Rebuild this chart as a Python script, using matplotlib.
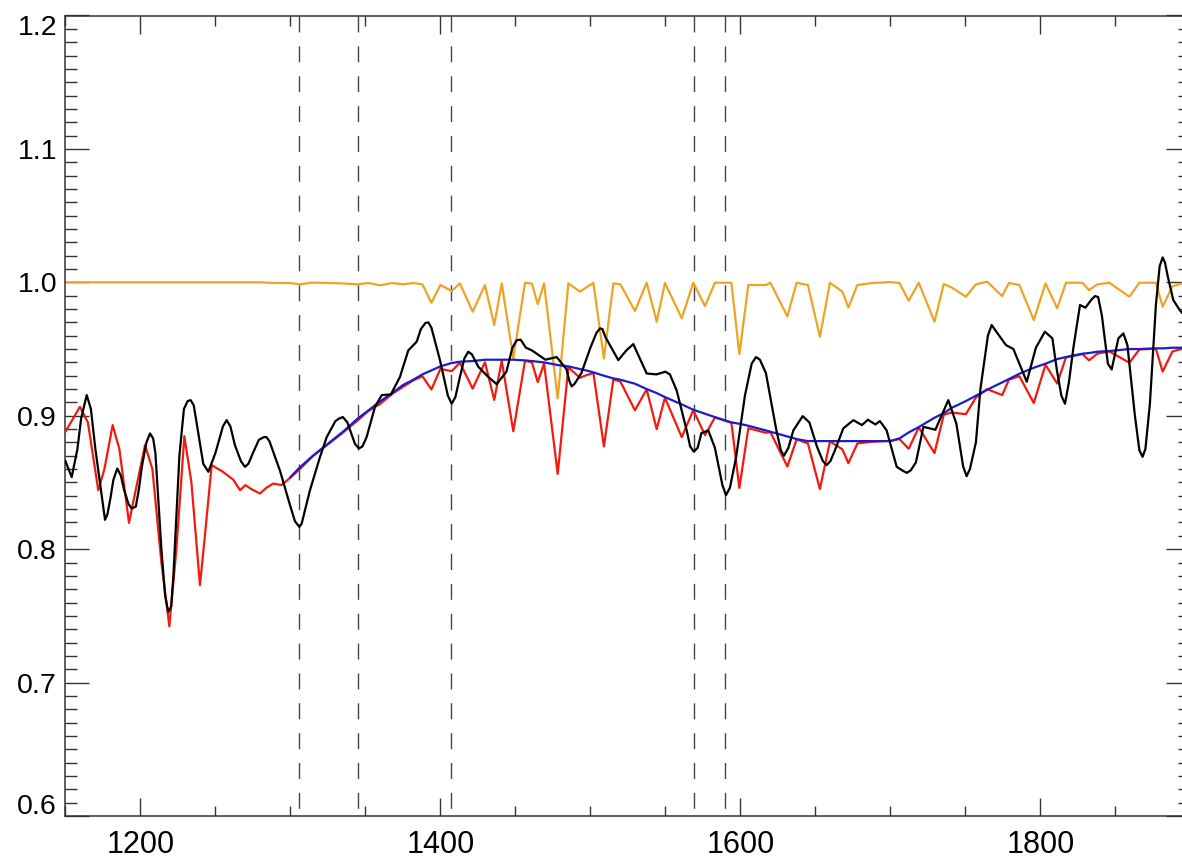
import numpy as np
import matplotlib
matplotlib.use("Agg")
import matplotlib.pyplot as plt
from matplotlib.ticker import MultipleLocator, FormatStrFormatter
from matplotlib.transforms import ScaledTranslation

plt.rcParams["font.family"] = ["Liberation Sans", "DejaVu Sans"]

# Observed, normalised spectrum
obs_wl = [1150, 1154.2, 1158, 1160.5, 1164.2, 1167, 1170, 1176.4, 1178, 1180,
          1182, 1184.6, 1187, 1189, 1192, 1194.2, 1197, 1199, 1201, 1204,
          1206.4, 1208.5, 1210, 1214, 1216.5, 1218.6, 1220.5, 1222, 1226, 1229,
          1231.5, 1233.5, 1235.5, 1237, 1241.9, 1245.3, 1250, 1255, 1257.5, 1260,
          1263, 1267, 1269.7, 1272, 1275, 1279, 1282.4, 1284, 1286, 1293,
          1300, 1303, 1305.9, 1307.5, 1309, 1313, 1319.7, 1324.2, 1330, 1332.6,
          1335, 1338, 1343, 1345.7, 1348, 1350.8, 1356.4, 1360.9, 1367, 1373,
          1378.6, 1384.2, 1387, 1390, 1392, 1394, 1399.7, 1405, 1407.5, 1410,
          1413, 1416, 1418.6, 1421, 1425.3, 1432, 1437.5, 1444, 1448, 1450.9,
          1453.5, 1457, 1461, 1470, 1477.5, 1484, 1486, 1487.5, 1489.5, 1494,
          1500, 1504, 1506.4, 1508, 1510, 1518.6, 1524, 1528.6, 1537.5, 1544,
          1550, 1553, 1557.5, 1564.2, 1566.5, 1569, 1571.5, 1574, 1578.6, 1583,
          1588, 1590.4, 1593, 1597, 1603, 1607.5, 1610.4, 1613, 1617, 1624,
          1627, 1629, 1632, 1635.3, 1641.5, 1646, 1651, 1655, 1657.5, 1660,
          1663, 1668.6, 1675.3, 1681, 1685, 1690, 1693, 1697.5, 1704.2, 1708,
          1710.9, 1713.5, 1717, 1722, 1730, 1738.6, 1744, 1748.5, 1750.8, 1753,
          1757, 1760, 1765, 1767.5, 1770, 1777, 1782, 1790.9, 1797, 1803,
          1808, 1811, 1814, 1816.4, 1819, 1822, 1826.4, 1830, 1834, 1836.4,
          1838.5, 1841, 1845, 1847.5, 1852, 1855.3, 1858, 1863, 1866, 1868.1,
          1870, 1873, 1877, 1879.5, 1881.5, 1883, 1885, 1888.6, 1893, 1900]
obs_flux = [0.866, 0.854, 0.875, 0.898, 0.9155, 0.905, 0.875, 0.822, 0.826, 0.838,
            0.852, 0.8605, 0.855, 0.845, 0.834, 0.8305, 0.832, 0.845, 0.862, 0.880,
            0.8867, 0.883, 0.872, 0.800, 0.765, 0.753, 0.757, 0.780, 0.870, 0.905,
            0.911, 0.9117, 0.908, 0.898, 0.864, 0.858, 0.872, 0.892, 0.8967, 0.892,
            0.878, 0.866, 0.8617, 0.864, 0.872, 0.882, 0.884, 0.884, 0.881, 0.859,
            0.832, 0.821, 0.8167, 0.819, 0.826, 0.844, 0.869, 0.884, 0.896, 0.898,
            0.899, 0.895, 0.879, 0.8755, 0.877, 0.884, 0.9067, 0.9155, 0.916, 0.929,
            0.949, 0.9555, 0.965, 0.9695, 0.970, 0.966, 0.9417, 0.915, 0.909, 0.914,
            0.929, 0.943, 0.948, 0.946, 0.9367, 0.929, 0.9237, 0.933, 0.951, 0.9567,
            0.957, 0.951, 0.949, 0.942, 0.944, 0.935, 0.926, 0.922, 0.924, 0.932,
            0.951, 0.962, 0.9655, 0.965, 0.959, 0.9417, 0.949, 0.9537, 0.9317, 0.931,
            0.933, 0.931, 0.919, 0.889, 0.877, 0.873, 0.876, 0.887, 0.889, 0.876,
            0.848, 0.8405, 0.846, 0.868, 0.915, 0.939, 0.944, 0.942, 0.932, 0.889,
            0.874, 0.870, 0.876, 0.889, 0.8997, 0.895, 0.877, 0.866, 0.863, 0.866,
            0.874, 0.8905, 0.8967, 0.893, 0.897, 0.8935, 0.896, 0.889, 0.8617, 0.859,
            0.8572, 0.859, 0.865, 0.8917, 0.8895, 0.9117, 0.894, 0.862, 0.8547, 0.860,
            0.880, 0.920, 0.960, 0.968, 0.964, 0.953, 0.950, 0.9255, 0.951, 0.963,
            0.958, 0.934, 0.915, 0.909, 0.925, 0.951, 0.983, 0.981, 0.987, 0.9897,
            0.989, 0.975, 0.939, 0.9347, 0.958, 0.9617, 0.953, 0.900, 0.874, 0.8692,
            0.875, 0.909, 0.983, 1.012, 1.0187, 1.015, 1.004, 0.9867, 0.979, 0.970]

# Model grid: telluric transmission and fitted continuum (nan outside the fit)
model_wl = [1150, 1280, 1290, 1300, 1306, 1315, 1325, 1335, 1345, 1352,
            1360, 1368, 1375, 1382, 1388, 1394, 1400, 1407.5, 1413, 1421.5,
            1429.7, 1435.9, 1440.9, 1448.6, 1456.4, 1461, 1464.9, 1469.1, 1478.2, 1485.3,
            1493.1, 1497, 1502, 1509, 1515.3, 1520, 1529.7, 1537.5, 1544.2, 1549.7,
            1560.9, 1568.6, 1576.4, 1583, 1594, 1599.3, 1605.3, 1617, 1620, 1631.3,
            1637.5, 1645, 1653, 1659.7, 1668, 1672, 1678, 1688, 1700, 1706,
            1712.2, 1718.9, 1729.4, 1735.6, 1741, 1750.3, 1757, 1764.5, 1774.5, 1779,
            1786, 1795.6, 1803.4, 1811.2, 1817, 1828, 1832.4, 1838, 1846, 1859.3,
            1866, 1877, 1881.5, 1888, 1894.4, 1900]
transmission = [1.0, 1.0, 0.9995, 0.9995, 0.9985, 0.9998, 0.9995, 0.9992, 0.9985, 0.9995,
                0.9978, 0.9995, 0.9985, 0.9995, 0.9985, 0.9847, 0.998, 0.9935, 0.9992, 0.978,
                0.998, 0.968, 0.9992, 0.943, 0.9997, 0.999, 0.9837, 0.9992, 0.913, 0.9992,
                0.993, 0.996, 0.9995, 0.943, 0.9992, 0.9985, 0.9785, 0.9997, 0.9705, 0.9995,
                0.973, 0.9997, 0.9822, 0.9997, 0.9997, 0.9462, 0.998, 0.998, 0.9997, 0.9745,
                0.9997, 0.998, 0.9592, 0.9997, 0.993, 0.9812, 0.998, 0.9995, 1.0002, 0.9995,
                0.9862, 0.9997, 0.9705, 0.9987, 0.996, 0.9892, 0.9985, 1.0005, 0.9897, 0.9995,
                0.998, 0.9717, 0.9992, 0.9805, 0.9997, 0.9997, 0.9942, 0.9985, 0.9997, 0.9892,
                0.9997, 0.9997, 0.9817, 0.997, 0.9992, 0.9995]
continuum = [np.nan, np.nan, np.nan, 0.854, 0.861, 0.870, 0.879, 0.888, 0.898, 0.904,
             0.911, 0.917, 0.923, 0.927, 0.931, 0.934, 0.937, 0.9395, 0.9405, 0.941,
             0.942, 0.942, 0.942, 0.942, 0.9415, 0.941, 0.9405, 0.940, 0.938, 0.937,
             0.935, 0.934, 0.9325, 0.930, 0.928, 0.927, 0.924, 0.920, 0.917, 0.914,
             0.9085, 0.9045, 0.9015, 0.899, 0.895, 0.894, 0.8925, 0.889, 0.888, 0.8845,
             0.8825, 0.881, 0.881, 0.881, 0.881, 0.881, 0.881, 0.881, 0.881, 0.883,
             0.8875, 0.8915, 0.8985, 0.902, 0.906, 0.911, 0.915, 0.9195, 0.925, 0.9275,
             0.9315, 0.936, 0.939, 0.9425, 0.944, 0.9465, 0.947, 0.948, 0.9485, 0.950,
             0.950, 0.9505, 0.9505, 0.951, 0.951, 0.951]

# Model flux blueward of the continuum fit
blue_wl = [1150, 1159.7, 1165, 1171.9, 1176, 1181.5, 1186, 1192.4, 1197, 1203.1,
           1208, 1214, 1219.3, 1224, 1229.3, 1234, 1239.7, 1243, 1247.5, 1255,
           1262, 1266.4, 1270, 1274, 1279.7, 1284, 1288.6, 1294, 1300]
blue_flux = [0.888, 0.9067, 0.895, 0.8442, 0.860, 0.893, 0.875, 0.8197, 0.845, 0.878,
             0.860, 0.790, 0.7422, 0.800, 0.8847, 0.850, 0.773, 0.810, 0.863, 0.858,
             0.852, 0.8442, 0.848, 0.845, 0.8417, 0.846, 0.8492, 0.848, 0.8536]

# Marked wavelengths
line_wl = [1306, 1345, 1407, 1569, 1590]

xlim = (1150, 1900)
ylim = (0.6, 1.2)

fig = plt.figure(figsize=(11.82, 8.61), dpi=100)
ax = fig.add_axes([65.4 / 1182, 45 / 861, 1125 / 1182, 800.5 / 861])

mw = np.array(model_wl)
tr = np.array(transmission)
cont = np.array(continuum)
fit = ~np.isnan(cont)
model_full_wl = np.concatenate([blue_wl, mw[fit][1:]])
model_full_flux = np.concatenate([blue_flux, (cont * tr)[fit][1:]])

for w in line_wl:
    ax.plot([w, w], [ylim[1], ylim[0]], color="#444444", lw=1.0,
            linestyle=(0, (11.5, 10)), zorder=1)

ax.plot(mw, tr, color="#EFA324", lw=1.6, zorder=2)
ax.plot(model_full_wl, model_full_flux, color="#F21A0E", lw=1.6, zorder=3)
ax.plot(mw[fit], cont[fit], color="#1C1CCB", lw=1.6, zorder=4)
ax.plot(obs_wl, obs_flux, color="black", lw=1.6, zorder=5)

ax.set_xlim(*xlim)
ax.set_ylim(*ylim)

ax.xaxis.set_major_locator(MultipleLocator(200))
ax.xaxis.set_minor_locator(MultipleLocator(50))
ax.yaxis.set_major_locator(MultipleLocator(0.1))
ax.yaxis.set_minor_locator(MultipleLocator(0.01))
ax.yaxis.set_major_formatter(FormatStrFormatter("%.1f"))
ax.xaxis.set_major_formatter(FormatStrFormatter("%d"))

ax.tick_params(axis="both", which="both", direction="in", top=True, right=True,
               color="#333333", width=1.0)
ax.tick_params(axis="x", which="major", length=13, pad=10, labelsize=22)
ax.tick_params(axis="x", which="minor", length=7.5)
ax.tick_params(axis="y", which="major", length=17, pad=6, labelsize=20.5)
ax.tick_params(axis="y", which="minor", length=8.5)

for s in ax.spines.values():
    s.set_color("#333333")
    s.set_linewidth(1.1)

fig.canvas.draw()
for tick in ax.yaxis.get_major_ticks():
    loc = tick.get_loc()
    if abs(loc - 1.2) < 1e-6:
        tick.label1.set_transform(tick.label1.get_transform() +
                                  ScaledTranslation(0, -0.10, fig.dpi_scale_trans))
    elif abs(loc - 0.6) < 1e-6:
        tick.label1.set_transform(tick.label1.get_transform() +
                                  ScaledTranslation(0, 0.12, fig.dpi_scale_trans))

fig.savefig("out.png", dpi=100)
